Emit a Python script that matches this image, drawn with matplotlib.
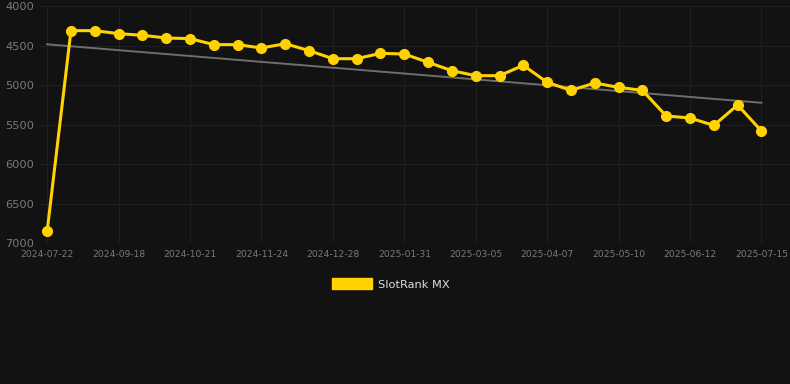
import numpy as np
import matplotlib.pyplot as plt
from matplotlib.patches import Rectangle

# SlotRank MX rank values (lower is better, axis inverted)
rank_values = [6850, 4312, 4312, 4350, 4371, 4405, 4413, 4489, 4489, 4532, 4477,
               4565, 4667, 4667, 4599, 4608, 4713, 4819, 4882, 4882, 4751,
               4966, 5068, 4975, 5030, 5068, 5392, 5418, 5511, 5253, 5582]
tick_labels = ["2024-07-22", "2024-09-18", "2024-10-21", "2024-11-24", "2024-12-28",
               "2025-01-31", "2025-03-05", "2025-04-07", "2025-05-10", "2025-06-12",
               "2025-07-15"]
trend_values = [4485, 5225]

bg = '#121212'
yellow = '#FFD200'

fig = plt.figure(figsize=(7.9, 3.84), dpi=100, facecolor=bg)
ax = fig.add_axes([40/790, 1 - 243/384, 750/790, 237/384])
ax.set_facecolor(bg)

x = np.arange(len(rank_values))
ax.plot([x[0], x[-1]], trend_values, color='#6e6e6e', linewidth=1.4, zorder=2)
ax.plot(x, rank_values, color=yellow, linewidth=2.2, marker='o', markersize=7,
        zorder=3)

ax.set_ylim(7000, 4000)
ax.set_xlim(-0.3, 31.2)
ax.set_yticks([4000, 4500, 5000, 5500, 6000, 6500, 7000])
ax.set_xticks(x[::3])
ax.set_xticklabels(tick_labels)
ax.tick_params(axis='y', colors='#7a7a7a', labelsize=8.2, length=0, pad=4)
ax.tick_params(axis='x', colors='#7a7a7a', labelsize=6.6, length=0, pad=5)
ax.grid(True, color='#1f1f1f', linewidth=0.8)
ax.axhline(7000, color='#2a2a2a', linewidth=0.9, zorder=1)
ax.set_axisbelow(True)
for s in ax.spines.values():
    s.set_visible(False)

# legend
fig.patches.append(Rectangle((332/790, 1 - 289/384), 40/790, 11/384,
                             transform=fig.transFigure, color=yellow))
fig.text(378/790, 1 - 284.5/384, 'SlotRank MX', color='#dddddd', fontsize=8.2,
         va='center', ha='left')

fig.savefig('out.png', dpi=100, facecolor=bg)
